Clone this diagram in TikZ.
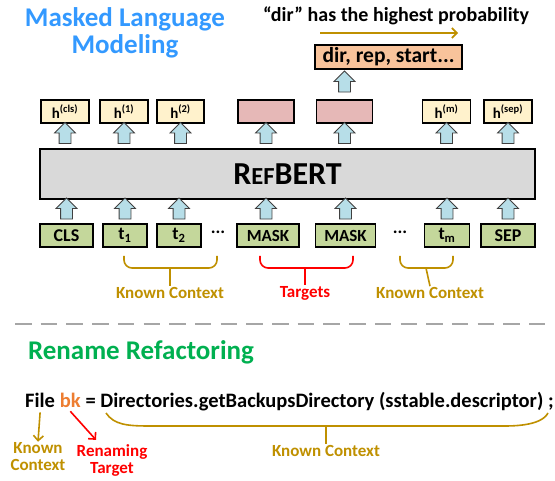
\documentclass[tikz,border=0pt]{standalone}
\usepackage{fontspec}
\setmainfont{Carlito}
\usetikzlibrary{arrows.meta,calc,shapes.arrows}

\definecolor{titleblue}{RGB}{51,153,255}
\definecolor{ctxgold}{RGB}{191,144,0}
\definecolor{tokgreen}{RGB}{196,215,155}
\definecolor{hidyellow}{RGB}{255,242,204}
\definecolor{predpink}{RGB}{230,184,183}
\definecolor{probsorange}{RGB}{248,195,155}
\definecolor{modelgray}{RGB}{217,217,217}
\definecolor{arrowblue}{RGB}{183,222,232}
\definecolor{renamegreen}{RGB}{0,176,80}
\definecolor{bkorange}{RGB}{237,125,49}

\newcommand\fs[1]{\bfseries\fontsize{#1}{#1}\selectfont}
% block arrow from node #1 up to node #2, at the x of node #3
\newcommand\upblock[3]{\node[bluearrow] at ($(#3 |- #1.north)!0.5!(#3 |- #2.south)$) {};}

\tikzset{
  box/.style={draw=black, line width=1.5pt, inner sep=0pt, minimum height=23pt, font=\fs{18}},
  token/.style={box, fill=tokgreen},
  hid/.style={box, fill=hidyellow, minimum width=48pt, font=\fs{15}},
  pred/.style={box, fill=predpink, minimum width=56pt},
  bluearrow/.style={single arrow, draw=black!75, line width=0.8pt, fill=arrowblue, rotate=90,
    inner sep=5.5pt, minimum height=21pt, single arrow head extend=4.5pt},
  lbl/.style={inner sep=1pt, font=\fs{17}, align=center},
  goldline/.style={draw=ctxgold, line width=1.6pt},
  redline/.style={draw=red, line width=1.6pt},
}

\begin{document}
\begin{tikzpicture}[x=1pt, y=-1pt]
\useasboundingbox (0,0) rectangle (555,481);

% masked language modeling
\node[font=\fs{27}, text=titleblue, align=center] (mlm) at (125,33) {Masked Language\\Modeling};
\node[font=\fs{20}] (best) at (396,16) {“dir” has the highest probability};
\coordinate (pa) at (320,33);
\coordinate (pb) at (458,33);
\draw[goldline, -{Straight Barb[length=5pt,width=10pt]}] (pa) -- (pb);

\node[box, fill=probsorange, minimum width=147pt, minimum height=24pt, font=\fs{21.5}] (probs) at (388.5,57) {dir, rep, start...};

\node[hid] (hcls) at (65,111.5) {h\textsuperscript{(cls)}};
\node[hid] (h1) at (124,111.5) {h\textsuperscript{(1)}};
\node[hid, minimum width=47pt] (h2) at (180.5,111.5) {h\textsuperscript{(2)}};
\node[pred] (p1) at (266,111.5) {};
\node[pred] (p2) at (344.5,111.5) {};
\node[hid] (hm) at (446.5,111.5) {h\textsuperscript{(m)}};
\node[hid] (hsep) at (508,111.5) {h\textsuperscript{(sep)}};

\node[box, fill=modelgray, minimum width=495pt, minimum height=50pt] (refbert) at (287.5,174)
  {\fs{32}R\fs{24.5}EF\fs{32}BERT};

\node[token, minimum width=53pt] (cls) at (66.5,235.5) {CLS};
\node[token, minimum width=44pt] (t1) at (125,235.5) {t\textsubscript{1}};
\node[token, minimum width=44pt] (t2) at (179,235.5) {t\textsubscript{2}};
\node[font=\fs{18}] (dots1) at (218,232) {...};
\node[token, minimum width=62pt, font=\fs{17}] (mask1) at (268,235.5) {MASK};
\node[token, minimum width=60pt, font=\fs{17}] (mask2) at (345.5,235.5) {MASK};
\node[font=\fs{18}] (dots2) at (400,232) {...};
\node[token, minimum width=45pt] (tm) at (447,235.5) {t\textsubscript{m}};
\node[token, minimum width=54pt] (sep) at (508,235.5) {SEP};

\upblock{cls}{refbert}{cls}
\upblock{t1}{refbert}{t1}
\upblock{t2}{refbert}{t2}
\upblock{mask1}{refbert}{p1}
\upblock{mask2}{refbert}{mask2}
\upblock{tm}{refbert}{tm}
\upblock{sep}{refbert}{sep}
\upblock{refbert}{hcls}{hcls}
\upblock{refbert}{h1}{h1}
\upblock{refbert}{h2}{h2}
\upblock{refbert}{p1}{p1}
\upblock{refbert}{p2}{p2}
\upblock{refbert}{hm}{hm}
\upblock{refbert}{hsep}{hsep}
\upblock{p2}{probs}{p2}

% braces under the tokens
\node[lbl, text=ctxgold] (kc1) at (170,293) {Known Context};
\node[lbl, text=red] (tg) at (305,293) {Targets};
\node[lbl, text=ctxgold] (kc2) at (430,293) {Known Context};
\draw[goldline, rounded corners=8pt] (124,256) -- (124,268) -- (217,268) -- (217,256);
\draw[goldline] (170,268) -- (kc1.north);
\draw[redline, rounded corners=8pt] (260,256) -- (260,268) -- (353,268) -- (353,256);
\draw[redline] (305,268) -- (tg.north);
\draw[goldline, rounded corners=8pt] (400,256) -- (400,268) -- (453,268) -- (453,256);
\draw[goldline] (426,268) -- (kc2.north);

\draw[draw=black!35, line width=2.5pt, dash pattern=on 16.5pt off 9.2pt] (15,324) -- (545,324);

% rename refactoring
\node[font=\fs{27}, text=renamegreen] (rr) at (141,352) {Rename Refactoring};
\node[font=\fs{20.5}, inner sep=0pt, anchor=base west] (file) at (25,407) {File};
\node[font=\fs{20.5}, inner sep=0pt, anchor=base west, text=bkorange] (bk) at ([xshift=4.5pt]file.base east) {bk};
\node[font=\fs{20.5}, inner sep=0pt, anchor=base west] (rest) at ([xshift=4.5pt]bk.base east)
  {= Directories.getBackupsDirectory (sstable.descriptor) ;};

\node[lbl, text=ctxgold] (kc3) at (38,457) {Known\\Context};
\node[lbl, text=red] (rt) at (112,460) {Renaming\\Target};
\node[lbl, text=ctxgold] (kc4) at (326,451) {Known Context};
\draw[goldline, -{Straight Barb[length=5pt,width=10pt]}] ([yshift=-5pt]file.south) -- (kc3.north);
\draw[redline, -{Straight Barb[length=5pt,width=10pt]}] ([yshift=-4pt]bk.south) -- ($(rt.north)+(-16,-3)$);
\draw[goldline] (106,413) .. controls (114,425) and (128,426) .. (150,426) -- (505,426)
  .. controls (530,426) and (544,421) .. (548,413);
\draw[goldline] (326,426) -- (kc4.north);
\end{tikzpicture}
\end{document}
